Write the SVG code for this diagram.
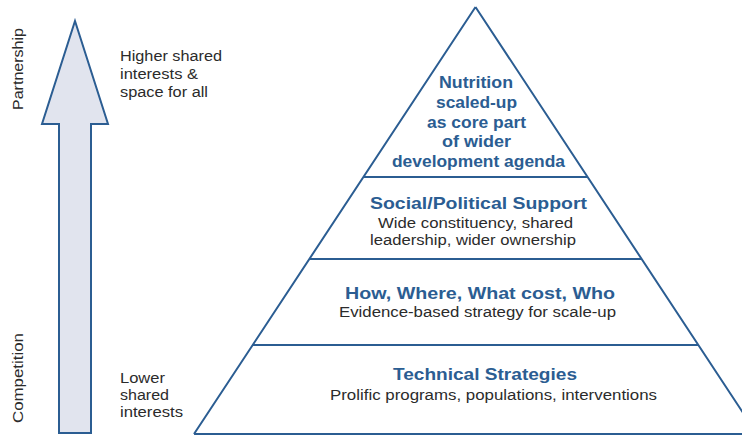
<svg xmlns="http://www.w3.org/2000/svg" width="742" height="435" viewBox="0 0 742 435">
<style>
.line{fill:none;stroke:#2b5d92;stroke-width:2;stroke-linejoin:miter}
.arrow{fill:#e1e4ee;stroke:#2b5d92;stroke-width:2}
.lab{font-family:"Liberation Sans",Arial,sans-serif;font-size:14px;fill:#2b2b2b}
.h{font-family:"Liberation Sans",Arial,sans-serif;font-size:17px;font-weight:bold;fill:#2b5d92;text-anchor:middle}
.t{font-family:"Liberation Sans",Arial,sans-serif;font-size:16px;font-weight:bold;fill:#2b5d92;text-anchor:middle}
.s{font-family:"Liberation Sans",Arial,sans-serif;font-size:14px;fill:#2b2b2b;text-anchor:middle}
</style>
<rect width="742" height="435" fill="#ffffff"/>
<g id="arrow">
<path class="arrow" d="M75,21 L108,124 L91,124 L91,433 L59,433 L59,124 L42,124 Z"/>
</g>
<g id="axis-labels">
<text class="lab" transform="translate(23,110) rotate(-90)" textLength="82" lengthAdjust="spacingAndGlyphs">Partnership</text>
<text class="lab" transform="translate(23,423) rotate(-90)" textLength="90" lengthAdjust="spacingAndGlyphs">Competition</text>
<text class="lab" x="120" y="61" textLength="102" lengthAdjust="spacingAndGlyphs">Higher shared</text>
<text class="lab" x="120" y="79" textLength="78" lengthAdjust="spacingAndGlyphs">interests &amp;</text>
<text class="lab" x="120" y="97" textLength="88" lengthAdjust="spacingAndGlyphs">space for all</text>
<text class="lab" x="120" y="383" textLength="45" lengthAdjust="spacingAndGlyphs">Lower</text>
<text class="lab" x="120" y="400" textLength="49" lengthAdjust="spacingAndGlyphs">shared</text>
<text class="lab" x="120" y="417" textLength="63" lengthAdjust="spacingAndGlyphs">interests</text>
</g>
<g id="pyramid">
<path class="line" d="M475.5,7 L757,434 M475.5,7 L194,434 M194,434 L742,434"/>
</g>
<g id="level-top">
<line class="line" x1="363" y1="177" x2="588" y2="177"/>
<text class="t" x="476" y="88" textLength="74" lengthAdjust="spacingAndGlyphs">Nutrition</text>
<text class="t" x="476.5" y="108" textLength="81" lengthAdjust="spacingAndGlyphs">scaled-up</text>
<text class="t" x="476.5" y="128" textLength="99" lengthAdjust="spacingAndGlyphs">as core part</text>
<text class="t" x="476.5" y="147" textLength="69" lengthAdjust="spacingAndGlyphs">of wider</text>
<text class="t" x="478.5" y="167" textLength="173" lengthAdjust="spacingAndGlyphs">development agenda</text>
</g>
<g id="level-social">
<line class="line" x1="309" y1="259" x2="641" y2="259"/>
<text class="h" x="478.5" y="209" textLength="217" lengthAdjust="spacingAndGlyphs">Social/Political Support</text>
<text class="s" x="475.5" y="228" textLength="195" lengthAdjust="spacingAndGlyphs">Wide constituency, shared</text>
<text class="s" x="473" y="245" textLength="206" lengthAdjust="spacingAndGlyphs">leadership, wider ownership</text>
</g>
<g id="level-how">
<line class="line" x1="252" y1="345" x2="698" y2="345"/>
<text class="h" x="480" y="299" textLength="270" lengthAdjust="spacingAndGlyphs">How, Where, What cost, Who</text>
<text class="s" x="477.5" y="317" textLength="277" lengthAdjust="spacingAndGlyphs">Evidence-based strategy for scale-up</text>
</g>
<g id="level-technical">
<text class="h" x="485" y="380" textLength="184" lengthAdjust="spacingAndGlyphs">Technical Strategies</text>
<text class="s" x="493.5" y="400" textLength="327" lengthAdjust="spacingAndGlyphs">Prolific programs, populations, interventions</text>
</g>
</svg>
